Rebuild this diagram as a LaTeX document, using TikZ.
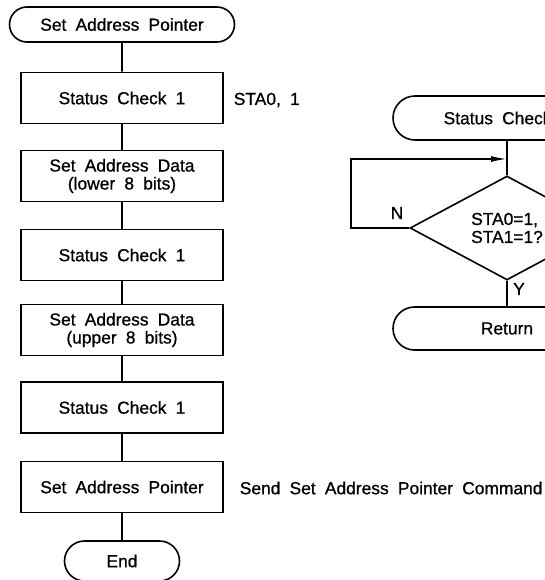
\documentclass[tikz,border=0pt]{standalone}
\usepackage{fontspec}
\setmainfont{Liberation Sans}[WordSpace=1.9,FakeBold=0.8]
\usetikzlibrary{shapes.misc,shapes.geometric,arrows.meta}
\begin{document}
\begin{tikzpicture}[x=1pt,y=-1pt,line width=1.6pt,
  font=\fontsize{17.4}{18}\selectfont,
  box/.style={draw,rectangle,minimum width=202pt,minimum height=51pt,align=center,inner sep=0pt},
  term/.style={draw,rounded rectangle,inner sep=0pt,align=center},
  lbl/.style={inner sep=0pt},
  conn/.style={draw}]
\useasboundingbox (0,0) rectangle (545,580);
\clip (0,0) rectangle (545,580);
% left flowchart
\node[term,minimum width=225pt,minimum height=35pt] (start) at (122,24.5) {Set Address Pointer};
\node[box] (b1) at (122,98) {Status Check 1};
\node[box] (b2) at (122,176) {Set Address Data\\(lower 8 bits)};
\node[box] (b3) at (122,255) {Status Check 1};
\node[box] (b4) at (122,330) {Set Address Data\\(upper 8 bits)};
\node[box] (b5) at (122,407.5) {Status Check 1};
\node[box] (b6) at (122,487) {Set Address Pointer};
\node[term,minimum width=115pt,minimum height=40pt] (end) at (122,561) {End};
\node[lbl,anchor=west] (n1) at (233,100) {STA0, 1};
\node[lbl,anchor=west] (n2) at (239,488) {Send Set Address Pointer Command};
\draw[conn] (start) -- (b1);
\draw[conn] (b1) -- (b2);
\draw[conn] (b2) -- (b3);
\draw[conn] (b3) -- (b4);
\draw[conn] (b4) -- (b5);
\draw[conn] (b5) -- (b6);
\draw[conn] (b6) -- (end);
% right flowchart
\node[term,minimum width=228pt,minimum height=44pt] (sc) at (507,118) {Status Check 1};
\node[draw,diamond,aspect=1.87,minimum width=194pt,minimum height=104pt,inner sep=0pt,align=left] (dec) at (507,228) {STA0=1,\\STA1=1?};
\node[term,minimum width=228pt,minimum height=43pt] (ret) at (507,328.5) {Return};
\coordinate (lp) at (351,159);
\coordinate (jn) at (507,159);
\draw[conn] (sc) -- (dec);
\draw[conn] (dec) -- (ret);
\draw[conn,-{Latex[length=16pt,width=6pt]}] (dec.west) -- (dec.west -| lp) |- (jn);
\node[lbl] (nl) at (397,213) {N};
\node[lbl] (yl) at (519,289) {Y};
\end{tikzpicture}
\end{document}
